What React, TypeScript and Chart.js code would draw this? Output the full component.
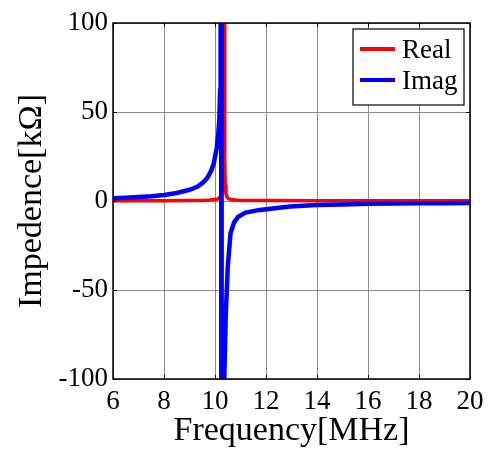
import React, { useEffect, useRef } from "react";
import { Chart, registerables } from "chart.js";

Chart.register(...registerables);

// Frequency [MHz] / value [kΩ] pairs
const realFreq = [6, 7, 8, 9, 9.5, 9.8, 10, 10.1, 10.15, 10.2, 10.25, 10.29, 10.31, 10.33, 10.345, 10.36, 10.38, 10.4, 10.43, 10.47, 10.53, 10.62, 10.8, 11, 12, 14, 16, 18, 20];
const realVals = [0.1, 0.1, 0.15, 0.25, 0.35, 0.5, 0.8, 1.1, 1.5, 2.2, 4, 9, 25, 120, 250, 120, 25, 9, 4, 2.2, 1.4, 0.8, 0.5, 0.35, 0.25, 0.2, 0.2, 0.2, 0.2];

const imagFreq = [6, 6.5, 7, 7.5, 8, 8.5, 9, 9.3, 9.5, 9.7, 9.85, 9.95, 10.07, 10.13, 10.17, 10.2, 10.22, 10.24, 10.26, 10.26, 10.3, 10.365, 10.42, 10.5, 10.61, 10.75, 10.91, 11.2, 11.76, 12.94, 14, 15, 16, 17, 18, 19, 20];
const imagVals = [1.5, 1.8, 2.2, 2.7, 3.4, 4.5, 6.3, 8, 10, 13, 17, 21, 30, 38, 46, 62, 90, 200, 600, -600, -250, -100, -65, -37, -18, -12, -8.8, -6.5, -5, -3.1, -2.3, -1.9, -1.6, -1.45, -1.3, -1.2, -1.1];

const seriesLabels = ["Real", "Imag"];
const seriesColors = ["#ff0000", "#0000ff"];

const xTicks = { min: 6, max: 20, step: 2 };
const yTicks = { min: -100, max: 100, step: 50 };

const xTitle = "Frequency[MHz]";
const yTitle = "Impedence[kΩ]";

const FONT = "\"Liberation Serif\", \"DejaVu Serif\", \"Times New Roman\", serif";

const framePlugin = {
  id: "frame",
  afterDraw(chart: any) {
    const { ctx, chartArea } = chart;
    const { left, right, top, bottom } = chartArea;
    const xs = chart.scales.x;
    const ys = chart.scales.y;
    ctx.save();
    // inward ticks
    ctx.strokeStyle = "#000";
    ctx.lineWidth = 1;
    const tl = 4;
    ctx.beginPath();
    xs.ticks.forEach((t: any) => {
      const px = Math.round(xs.getPixelForValue(t.value)) + 0.5;
      ctx.moveTo(px, bottom);
      ctx.lineTo(px, bottom - tl);
      ctx.moveTo(px, top);
      ctx.lineTo(px, top + tl);
    });
    ys.ticks.forEach((t: any) => {
      const py = Math.round(ys.getPixelForValue(t.value)) + 0.5;
      ctx.moveTo(left, py);
      ctx.lineTo(left + tl, py);
      ctx.moveTo(right, py);
      ctx.lineTo(right - tl, py);
    });
    ctx.stroke();
    // box
    ctx.lineWidth = 1.5;
    ctx.strokeRect(left, top, right - left, bottom - top);

    // legend
    const bx = 353, by = 29, bw = 111, bh = 76;
    ctx.fillStyle = "#fff";
    ctx.fillRect(bx, by, bw, bh);
    ctx.lineWidth = 1.2;
    ctx.strokeStyle = "#000";
    ctx.strokeRect(bx, by, bw, bh);
    const rowY = [49, 80];
    chart.data.datasets.forEach((ds: any, i: number) => {
      const y = rowY[i];
      ctx.strokeStyle = ds.borderColor;
      ctx.lineWidth = 4;
      ctx.beginPath();
      ctx.moveTo(360, y);
      ctx.lineTo(395, y);
      ctx.stroke();
      ctx.fillStyle = "#000";
      ctx.font = `27px ${FONT}`;
      ctx.textAlign = "left";
      ctx.textBaseline = "alphabetic";
      ctx.fillText(ds.label, 402, y + 9);
    });
    ctx.restore();
  },
};

export default function App() {
  const ref = useRef<HTMLCanvasElement | null>(null);

  useEffect(() => {
    if (!ref.current) return;
    const chart = new Chart(ref.current, {
      type: "line",
      data: {
        datasets: [
          {
            label: seriesLabels[0],
            data: realFreq.map((f, i) => ({ x: f, y: realVals[i] })),
            borderColor: seriesColors[0],
            backgroundColor: seriesColors[0],
            borderWidth: 3.5,
            pointRadius: 0,
            tension: 0,
            clip: 0,
            order: 1,
          },
          {
            label: seriesLabels[1],
            data: imagFreq.map((f, i) => ({ x: f, y: imagVals[i] })),
            borderColor: seriesColors[1],
            backgroundColor: seriesColors[1],
            borderWidth: 4.5,
            pointRadius: 0,
            tension: 0,
            clip: 0,
            order: 0,
          },
        ],
      },
      options: {
        responsive: false,
        animation: false,
        layout: { padding: { top: 23, right: 23, left: 0, bottom: 0 } },
        plugins: {
          legend: { display: false },
          tooltip: { enabled: false },
        },
        scales: {
          x: {
            type: "linear",
            min: xTicks.min,
            max: xTicks.max,
            ticks: {
              stepSize: xTicks.step,
              color: "#000",
              font: { family: FONT, size: 27 },
              padding: 7,
              maxRotation: 0,
            },
            grid: { color: "#8c8c8c", lineWidth: 1, drawTicks: false },
            border: { display: false },
            title: {
              display: true,
              text: xTitle,
              color: "#000",
              font: { family: FONT, size: 34, lineHeight: 1 },
              padding: { top: 0, bottom: 1 },
            },
            afterFit(scale: any) {
              scale.height = 70;
            },
          },
          y: {
            type: "linear",
            min: yTicks.min,
            max: yTicks.max,
            ticks: {
              stepSize: yTicks.step,
              color: "#000",
              font: { family: FONT, size: 27 },
              padding: 5,
            },
            grid: { color: "#8c8c8c", lineWidth: 1, drawTicks: false },
            border: { display: false },
            title: {
              display: true,
              text: yTitle,
              color: "#000",
              font: { family: FONT, size: 34, lineHeight: 1 },
              padding: { top: 15, bottom: 0 },
            },
            afterFit(scale: any) {
              scale.width = 113;
            },
          },
        },
      },
      plugins: [framePlugin],
    });
    let alive = true;
    const fonts: any = (document as any).fonts;
    if (fonts && fonts.load) {
      Promise.all([
        fonts.load('27px "Liberation Serif"'),
        fonts.load('34px "Liberation Serif"'),
      ])
        .catch(() => null)
        .then(() => {
          if (alive) chart.update();
        });
    }
    return () => {
      alive = false;
      chart.destroy();
    };
  }, []);

  return (
    <div style={{ position: "fixed", left: 0, top: 0, width: 493, height: 449, background: "#fff" }}>
      <canvas ref={ref} width={493} height={449} style={{ display: "block" }} />
    </div>
  );
}
